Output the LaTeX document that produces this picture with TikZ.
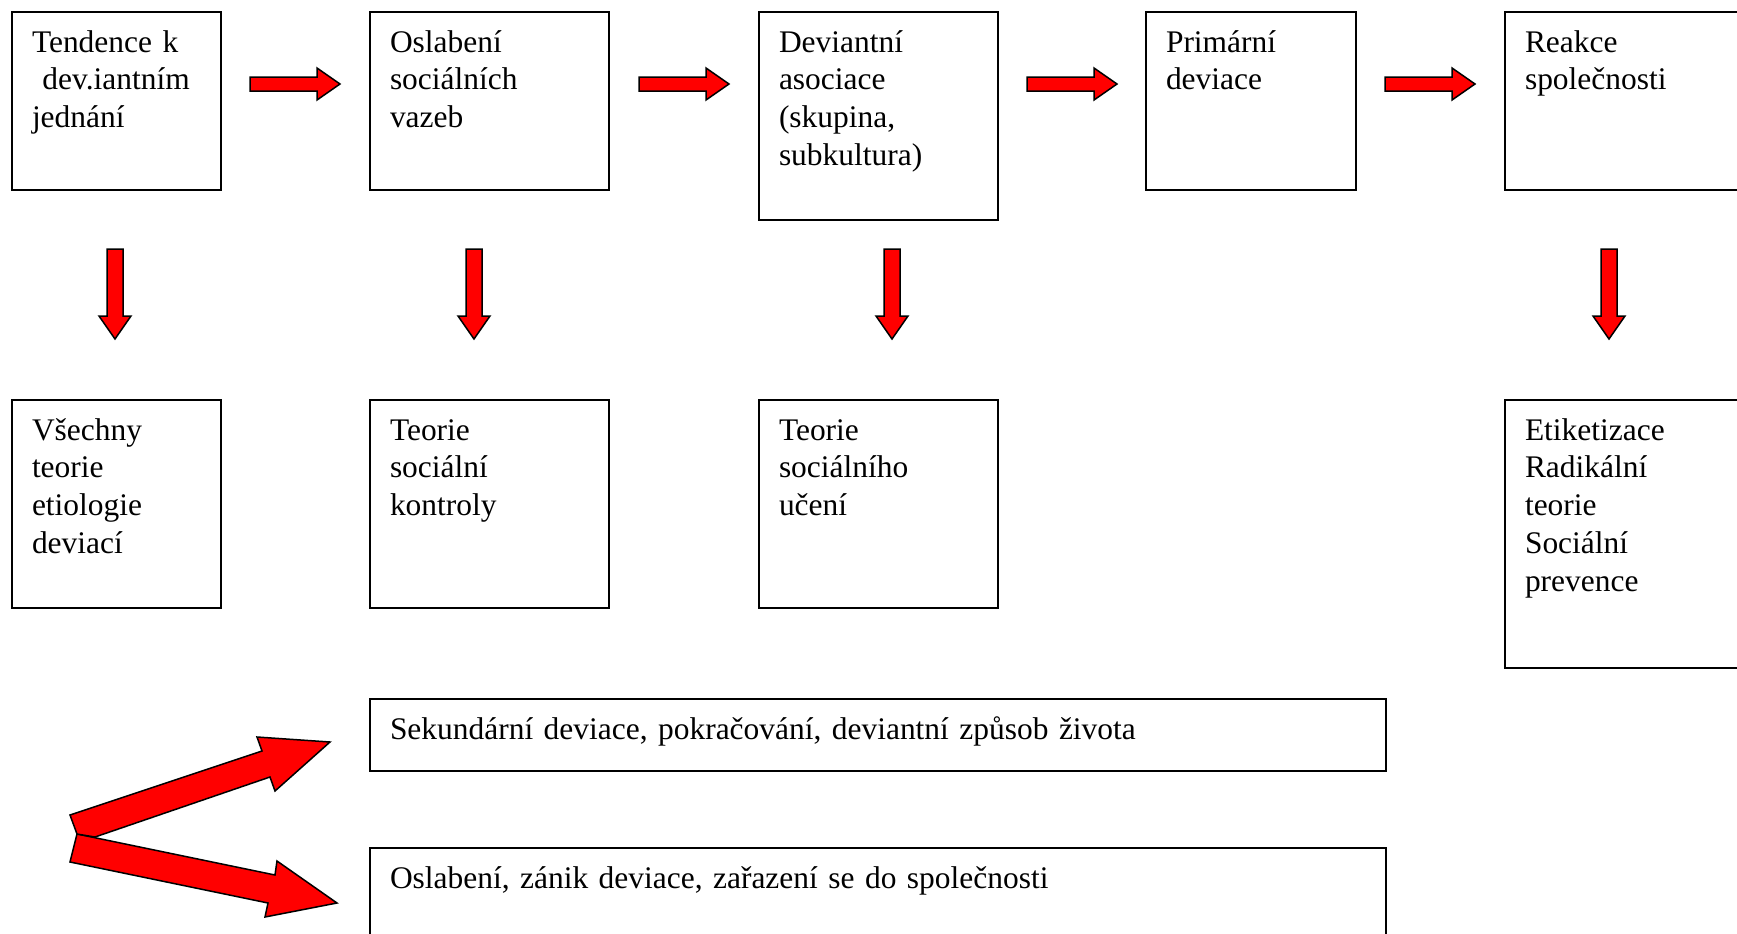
\documentclass[tikz,border=0pt]{standalone}
\usepackage{fontspec}
\setmainfont{Liberation Serif}
\usetikzlibrary{positioning, calc}

\newlength\px
\setlength\px{0.02cm}

\tikzset{
    box/.style={draw, line width=2\px, anchor=north west, align=left,
        inner xsep=20\px, inner ysep=16\px, text height=24\px,
        font=\fontsize{17.9pt}{21.6pt}\selectfont},
    blockarrow/.style={fill=red, draw=black, line width=1.5\px, line join=miter}
}

\begin{document}
\begin{tikzpicture}[x=1\px, y=-1\px]
\path[use as bounding box, clip] (0,0) rectangle (1737,933);

% Top row
\node[box, text width=169\px, text depth=122\px] (tend) at (11,11) {Tendence k\\\ dev.iantním\\jednání};
\node[box, text width=199\px, text depth=122\px] (oslab) at (369,11) {Oslabení\\sociálních\\vazeb};
\node[box, text width=199\px, text depth=152\px] (asoc) at (758,11) {Deviantní\\asociace\\(skupina,\\subkultura)};
\node[box, text width=170\px, text depth=122\px] (prim) at (1145,11) {Primární\\deviace};
\node[box, text width=220\px, text depth=122\px] (reak) at (1504,11) {Reakce\\společnosti};

% Theories
\node[box, text width=169\px, text depth=152\px] (etio) at (11,399) {Všechny\\teorie\\etiologie\\deviací};
\node[box, text width=199\px, text depth=152\px] (kontr) at (369,399) {Teorie\\sociální\\kontroly};
\node[box, text width=199\px, text depth=152\px] (uceni) at (758,399) {Teorie\\sociálního\\učení};
\node[box, text width=220\px, text depth=212\px] (etik) at (1504,399) {Etiketizace\\Radikální\\teorie\\Sociální\\prevence};

% Outcomes
\node[box, text width=976\px, text depth=16\px] (sekund) at (369,698) {Sekundární deviace, pokračování, deviantní způsob života};
\node[box, text width=976\px, text depth=64\px] (zanik) at (369,847) {Oslabení, zánik deviace, zařazení se do společnosti};

% Arrows right
\foreach \x in {250,639,1027,1385} {
    \filldraw[blockarrow] (\x,77) -- (\x+67,77) -- (\x+67,68) -- (\x+90,84)
        -- (\x+67,100) -- (\x+67,91) -- (\x,91) -- cycle;
}

% Arrows down
\foreach \x in {115,474,892,1609} {
    \filldraw[blockarrow] (\x-8,249) -- (\x+8,249) -- (\x+8,316) -- (\x+16,316)
        -- (\x,339) -- (\x-16,316) -- (\x-8,316) -- cycle;
}

% Forked arrow
\filldraw[blockarrow] (77,834) -- (275,875) -- (277,861) -- (337,903) -- (265,917)
    -- (268,903) -- (70,862) -- cycle;
\filldraw[blockarrow] (70,815) -- (262,751) -- (257,737) -- (330,742) -- (275,791)
    -- (270,777) -- (95,837) -- (77,834) -- cycle;
\end{tikzpicture}
\end{document}
